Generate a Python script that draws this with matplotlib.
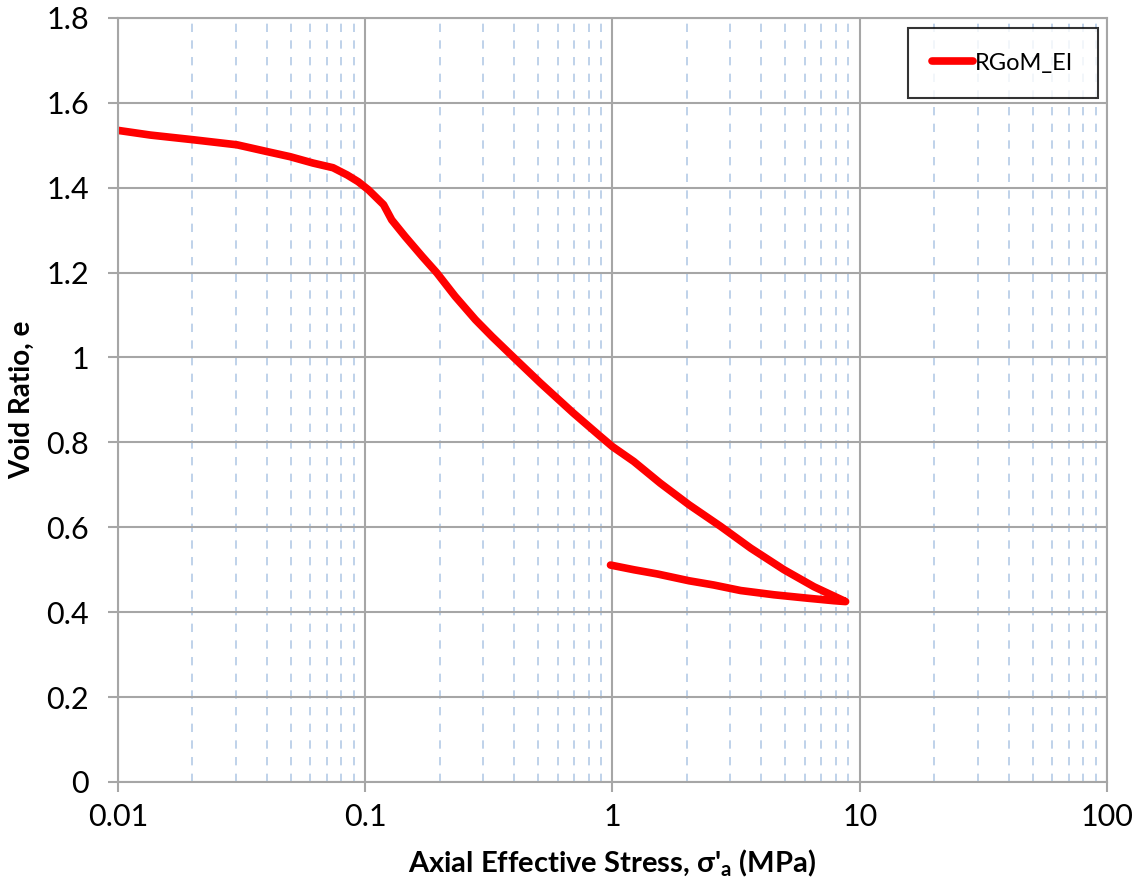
import matplotlib.pyplot as plt
from matplotlib.ticker import FixedLocator, NullFormatter

# loading branch then unloading branch (stress in MPa, void ratio)
stress = [0.01, 0.0135, 0.0201, 0.0303, 0.0401, 0.0497, 0.0615, 0.0741, 0.0845,
          0.0937, 0.103, 0.1186, 0.128, 0.145, 0.170, 0.195, 0.231, 0.279, 0.326,
          0.397, 0.511, 0.695, 0.894, 1.0, 1.22, 1.56, 2.04, 2.74, 3.62, 4.94,
          6.53, 8.77,
          7.87, 6.14, 4.50, 3.30, 2.57, 2.04, 1.52, 1.22, 0.982]
void_ratio = [1.535, 1.524, 1.513, 1.501, 1.485, 1.473, 1.458, 1.447, 1.430,
              1.414, 1.395, 1.360, 1.324, 1.285, 1.238, 1.199, 1.144, 1.089, 1.049,
              1.001, 0.940, 0.869, 0.814, 0.790, 0.755, 0.704, 0.653, 0.602, 0.551, 0.500,
              0.460, 0.425,
              0.427, 0.433, 0.441, 0.451, 0.464, 0.474, 0.490, 0.500, 0.511]
series_name = "RGoM_EI"

plt.rcParams["font.family"] = ["Lato", "DejaVu Sans"]

fig = plt.figure(figsize=(11.4, 8.94), dpi=100)
ax = fig.add_axes([0.1035, 0.1253, 0.8675, 0.8547])

ax.plot(stress, void_ratio, color="#ff0000", lw=5.5, solid_capstyle="round",
        solid_joinstyle="round", label=series_name)

ax.set_xscale("log")
ax.set_xlim(0.01, 100)
ax.set_ylim(0, 1.8)
ax.set_yticks([i * 0.2 for i in range(10)])
ax.set_yticklabels(["0", "0.2", "0.4", "0.6", "0.8", "1", "1.2", "1.4", "1.6", "1.8"])
ax.set_xticks([0.01, 0.1, 1, 10, 100])
ax.set_xticklabels(["0.01", "0.1", "1", "10", "100"])
minors = [m * 10.0 ** d for d in range(-2, 2) for m in range(2, 10)]
ax.xaxis.set_minor_locator(FixedLocator(minors))
ax.xaxis.set_minor_formatter(NullFormatter())

ax.grid(True, which="major", color="#a6a6a6", lw=1.5)
ax.grid(True, which="minor", axis="x", color="#b4cbe6", lw=1.2, ls=(0, (5, 5)))
ax.set_axisbelow(True)

for s in ax.spines.values():
    s.set_color("#a6a6a6")
    s.set_linewidth(1.5)

ax.tick_params(axis="x", which="major", direction="out", length=7, width=1.5,
               color="#a6a6a6", labelsize=22, pad=8)
ax.tick_params(axis="x", which="minor", length=0)
ax.tick_params(axis="y", direction="out", length=7, width=1.5, color="#a6a6a6",
               labelsize=22, pad=14)

ax.set_xlabel("Axial Effective Stress, σ'$_\\mathregular{a}$ (MPa)", fontsize=21,
              fontweight="bold", labelpad=12)
ax.set_ylabel("Void Ratio, e", fontsize=20, fontweight="bold", labelpad=8)

leg = ax.legend(loc="upper right", bbox_to_anchor=(0.991, 0.987), fontsize=17,
                frameon=True, fancybox=False, handlelength=1.7, handletextpad=0.1,
                borderpad=1.05, borderaxespad=0)
leg.get_frame().set_edgecolor("black")
leg.get_frame().set_linewidth(1.5)

fig.savefig("out.png", dpi=100)
